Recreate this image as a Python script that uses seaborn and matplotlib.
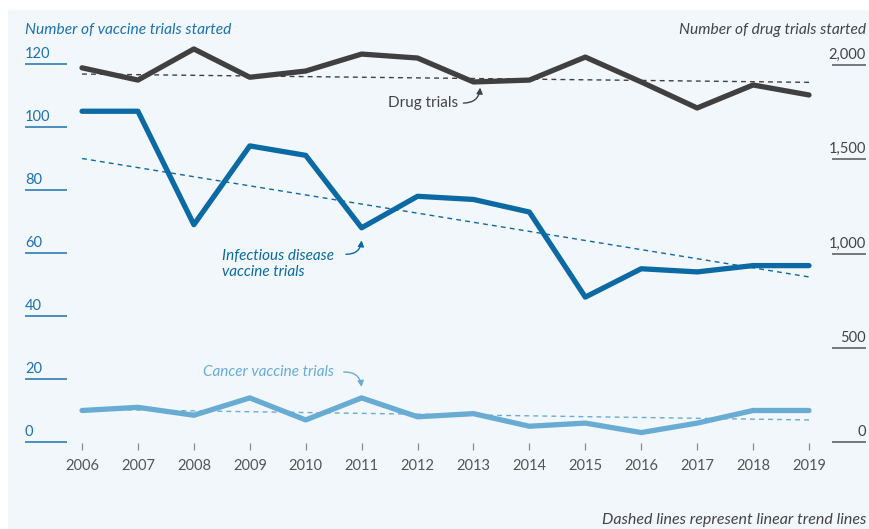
import numpy as np
import pandas as pd
import matplotlib
matplotlib.use("Agg")
import matplotlib.pyplot as plt
import seaborn as sns
from matplotlib.patches import Rectangle
from matplotlib.transforms import blended_transform_factory, offset_copy

# ---- data ----
years = list(range(2006, 2020))
drug_trials = [1985, 1920, 2085, 1935, 1968, 2058, 2037, 1910, 1920, 2042, 1910, 1772, 1894, 1841]
infectious_trials = [105, 105, 69, 94, 91, 68, 78, 77, 73, 46, 55, 54, 56, 56]
cancer_trials = [10, 11, 8.5, 14, 7, 14, 8, 9, 5, 6, 3, 6, 10, 10]
# linear trend lines (endpoints)
trend_years = [2006, 2019]
drug_trend = [1952, 1908]
infectious_trend = [90.0, 52.4]
cancer_trend = [10.4, 7.0]
left_ticks = [0, 20, 40, 60, 80, 100, 120]
right_ticks = [0, 500, 1000, 1500, 2000]
right_tick_labels = ["0", "500", "1,000", "1,500", "2,000"]

df = pd.DataFrame({"year": years, "drug": drug_trials,
                   "infectious": infectious_trials, "cancer": cancer_trials})
tdf = pd.DataFrame({"year": trend_years, "drug": drug_trend,
                    "infectious": infectious_trend, "cancer": cancer_trend})

sns.set_style("white")
plt.rcParams["font.family"] = ["Lato", "DejaVu Sans"]

DRUG = "#404040"
INF = "#0b6aa3"
CAN = "#69acd3"
BLUE_TXT = "#1b72ad"
GREY_TXT = "#444444"

W, H = 870, 529
fig = plt.figure(figsize=(W / 100, H / 100), dpi=100)
fig.patch.set_facecolor("white")
fig.patches.append(Rectangle((8 / W, 0), 1 - 8 / W, 1 - 10 / H, transform=fig.transFigure,
                             facecolor="#f2f7fc", edgecolor="none", zorder=-10))

AX_TOP, AX_BOT = 40, 443
pos = [70 / W, (H - AX_BOT) / H, 750 / W, (AX_BOT - AX_TOP) / H]
ax = fig.add_axes(pos)
ax2 = ax.twinx()
ax2.set_position(pos)
ax.set_zorder(1)
ax2.set_zorder(2)
ax.patch.set_visible(False)
ax2.patch.set_visible(False)

dash = (0, (3.5, 3))
# trend lines
sns.lineplot(data=tdf, x="year", y="infectious", ax=ax, color=INF, lw=1.0, ls=dash, zorder=1)
sns.lineplot(data=tdf, x="year", y="cancer", ax=ax, color=CAN, lw=1.0, ls=dash, zorder=1)
sns.lineplot(data=tdf, x="year", y="drug", ax=ax2, color=DRUG, lw=1.0, ls=dash, zorder=1)

# main lines
sns.lineplot(data=df, x="year", y="infectious", ax=ax, color=INF, lw=3.8, zorder=3, clip_on=False)
sns.lineplot(data=df, x="year", y="cancer", ax=ax, color=CAN, lw=3.8, zorder=3, clip_on=False)
sns.lineplot(data=df, x="year", y="drug", ax=ax2, color=DRUG, lw=3.8, zorder=3, clip_on=False)

ax.set_xlim(2005.785, 2019.197)
ax.set_ylim((442 - AX_BOT) / 3.15, (442 - AX_TOP) / 3.15)
ax2.set_ylim((442 - AX_BOT) / 0.1885, (442 - AX_TOP) / 0.1885)
for a in (ax, ax2):
    a.set_xlabel("")
    a.set_ylabel("")
    a.set_yticks([])
    for s in a.spines.values():
        s.set_visible(False)

ax.set_xticks(years)
ax.set_xticklabels([str(y) for y in years])
ax.tick_params(axis="x", bottom=True, length=5.2, width=0.9, color="#8a8a8a",
               pad=6.5, labelsize=10.5, labelcolor="#555555")

# left axis labels with underlines
trL = blended_transform_factory(fig.transFigure, ax.transData)
for v in left_ticks:
    ax.plot([25 / W, 67 / W], [v, v], transform=trL, color=BLUE_TXT, lw=1.1,
            clip_on=False, solid_capstyle="butt")
    ax.text(25 / W, v, str(v), transform=offset_copy(trL, fig=fig, y=3, units="dots"),
            ha="left", va="bottom", fontsize=10.5, color=BLUE_TXT)

trR = blended_transform_factory(fig.transFigure, ax2.transData)
for v, lab in zip(right_ticks, right_tick_labels):
    ax2.plot([832 / W, 866 / W], [v, v], transform=trR, color="#555555", lw=1.1,
             clip_on=False, solid_capstyle="butt")
    ax2.text(866 / W, v, lab, transform=offset_copy(trR, fig=fig, y=3, units="dots"),
             ha="right", va="bottom", fontsize=10.5, color=GREY_TXT)

# titles and note
fig.text(25 / W, 1 - 30 / H, "Number of vaccine trials started", ha="left", va="center",
         fontsize=11.2, style="italic", color=BLUE_TXT)
fig.text(866 / W, 1 - 30 / H, "Number of drug trials started", ha="right", va="center",
         fontsize=11.2, style="italic", color=GREY_TXT)
fig.text(866 / W, 1 - 520 / H, "Dashed lines represent linear trend lines", ha="right",
         va="center", fontsize=11.5, style="italic", color=GREY_TXT)

# annotations
ax2.text(2012.72, 1798, "Drug trials", ha="right", va="center", fontsize=11, color=GREY_TXT)
ax2.annotate("", xy=(2013.12, 1880), xytext=(2012.82, 1798),
             arrowprops=dict(arrowstyle="-|>,head_length=0.35,head_width=0.18", color=GREY_TXT,
                             lw=1.0, connectionstyle="arc3,rad=0.45", shrinkA=0, shrinkB=0))

ax.text(2008.50, 56.5, "Infectious disease\nvaccine trials", ha="left", va="center",
        fontsize=11, style="italic", color=INF, linespacing=1.1)
ax.annotate("", xy=(2011.0, 64.0), xytext=(2010.72, 59.6),
            arrowprops=dict(arrowstyle="-|>,head_length=0.35,head_width=0.18", color=INF,
                            lw=1.0, connectionstyle="arc3,rad=0.45", shrinkA=0, shrinkB=0))

ax.text(2008.16, 22.2, "Cancer vaccine trials", ha="left", va="center",
        fontsize=11, style="italic", color=CAN)
ax.annotate("", xy=(2011.0, 17.5), xytext=(2010.68, 22.2),
            arrowprops=dict(arrowstyle="-|>,head_length=0.35,head_width=0.18", color=CAN,
                            lw=1.0, connectionstyle="arc3,rad=-0.45", shrinkA=0, shrinkB=0))

fig.savefig("out.png", dpi=100, facecolor="white")
